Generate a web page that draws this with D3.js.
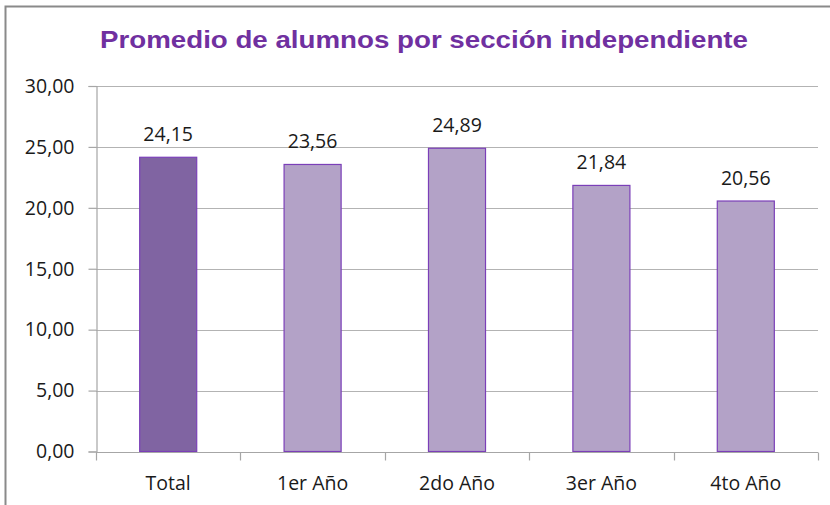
<!DOCTYPE html>
<html><head><meta charset="utf-8">
<script src="https://cdn.jsdelivr.net/npm/d3@7"></script>
<style>html,body{margin:0;padding:0;background:#fff;overflow:hidden}</style>
</head><body>
<svg id="c" width="830" height="505"></svg>
<script>
const categories = ["Total", "1er Año", "2do Año", "3er Año", "4to Año"];
const values = [24.15, 23.56, 24.89, 21.84, 20.56];
const yTicks = [0, 5, 10, 15, 20, 25, 30];
const title = "Promedio de alumnos por sección independiente";

const svg = d3.select("#c");
const m = {left: 96, right: 818, top: 86, bottom: 451.5};
const fmt = v => d3.format(".2f")(v).replace(".", ",");

svg.append("rect").attr("x", 5.5).attr("y", 6.5).attr("width", 1000).attr("height", 1000)
  .attr("fill", "#fff").attr("stroke", "#8a8a8a").attr("stroke-width", 2);

const x = d3.scaleBand().domain(categories).range([m.left, m.right]).paddingInner(0.605).paddingOuter(0.3025);
const xOuter = d3.scaleBand().domain(categories).range([m.left, m.right]);
const y = d3.scaleLinear().domain([0, 30]).range([m.bottom, m.top]);

// gridlines
svg.append("g").selectAll("line").data(yTicks.filter(t => t > 0)).join("line")
  .attr("x1", m.left).attr("x2", m.right)
  .attr("y1", d => Math.round(y(d)) + 0.5).attr("y2", d => Math.round(y(d)) + 0.5)
  .attr("stroke", "#b3b3b3").attr("stroke-width", 1.2);

// y axis
const yAxis = svg.append("g").attr("transform", `translate(${m.left + 0.5},0)`)
  .call(d3.axisLeft(y).tickValues(yTicks).tickFormat(fmt).tickSize(8).tickPadding(14));
yAxis.select(".domain").attr("stroke", "#a6a6a6").attr("stroke-width", 1.2);
yAxis.selectAll(".tick line").attr("stroke", "#a6a6a6").attr("stroke-width", 1.2);
yAxis.selectAll(".tick text").attr("font-family", "Open Sans").attr("font-size", 19.5).attr("fill", "#1a1a1a");

// bars
svg.append("g").selectAll("rect").data(values).join("rect")
  .attr("x", (d, i) => x(categories[i]))
  .attr("width", x.bandwidth())
  .attr("y", d => y(d))
  .attr("height", d => y(0) - y(d))
  .attr("fill", (d, i) => i === 0 ? "#8064a2" : "#b3a2c7")
  .attr("stroke", "#7b3fb8").attr("stroke-width", 1.2);

// x axis
const xAxisG = svg.append("g").attr("transform", `translate(0,${Math.round(y(0)) + 0.5})`);
xAxisG.append("line").attr("x1", m.left).attr("x2", m.right).attr("stroke", "#a6a6a6").attr("stroke-width", 1.2);
const edges = categories.map(c => xOuter(c)).concat([m.right]);
xAxisG.selectAll("line.tk").data(edges).join("line").attr("class", "tk")
  .attr("x1", d => Math.round(d) + 0.5).attr("x2", d => Math.round(d) + 0.5)
  .attr("y1", 0).attr("y2", 8).attr("stroke", "#a6a6a6").attr("stroke-width", 1.2);
xAxisG.selectAll("text").data(categories).join("text")
  .attr("x", d => xOuter(d) + xOuter.bandwidth() / 2).attr("y", 37)
  .attr("text-anchor", "middle").attr("font-family", "Open Sans").attr("font-size", 19.5)
  .attr("fill", "#1a1a1a").text(d => d);

// value labels
svg.append("g").selectAll("text").data(values).join("text")
  .attr("x", (d, i) => x(categories[i]) + x.bandwidth() / 2)
  .attr("y", d => y(d) - 16)
  .attr("text-anchor", "middle").attr("font-family", "Open Sans").attr("font-size", 19.5)
  .attr("fill", "#1a1a1a").text(d => fmt(d));

// title
svg.append("text").attr("x", 424).attr("y", 48).attr("text-anchor", "middle")
  .attr("font-family", "Liberation Sans, Arial, sans-serif").attr("font-weight", "bold")
  .attr("font-size", 24.5).attr("fill", "#7030a0")
  .attr("textLength", 648).attr("lengthAdjust", "spacingAndGlyphs").text(title);
</script>
</body></html>
